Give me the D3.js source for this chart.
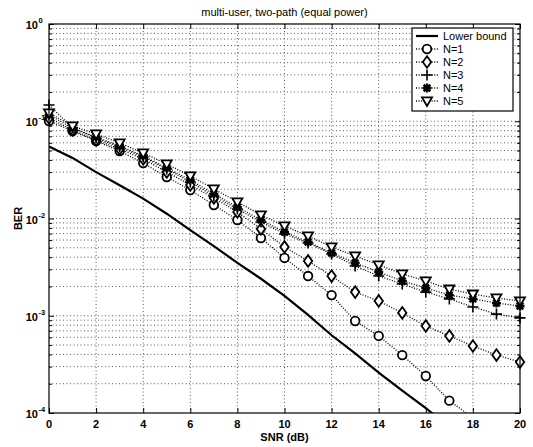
<!DOCTYPE html>
<html><head><meta charset="utf-8">
<script src="https://cdn.jsdelivr.net/npm/d3@7"></script>
<style>
body{margin:0;background:#fff;}
text{font-family:"Liberation Sans",Arial,Helvetica,sans-serif;fill:#000;}
</style></head>
<body><svg id="c" width="533" height="447"></svg>
<script>
const snr = d3.range(0, 21);
const lowerBoundX = d3.range(0, 18);
const lowerBound = [0.055,0.042,0.030,0.022,0.016,0.0112,0.0076,0.0052,0.0035,0.0024,0.0016,0.00102,0.00063,0.00041,0.00026,0.00017,0.000112,0.000072];
const n1X = d3.range(0, 19);
const n1 = [0.1006,0.0794,0.0626,0.0494,0.0372,0.0267,0.0196,0.01377,0.00966,0.0063,0.00393,0.00256,0.00163,0.000883,0.00062,0.000394,0.00024,0.000134,0.0000891];
const n2 = [0.1079,0.0813,0.0641,0.0519,0.0409,0.0301,0.0221,0.01626,0.01167,0.0078,0.0051,0.00366,0.00256,0.00175,0.00142,0.00107,0.000785,0.00062,0.000489,0.000394,0.000334];
const n3 = [0.147,0.0853,0.0673,0.0543,0.0429,0.0323,0.0237,0.017,0.01253,0.0092,0.00693,0.0056,0.00432,0.00325,0.00256,0.00212,0.00175,0.00149,0.00123,0.00104,0.00095];
const n4 = [0.1159,0.0853,0.0689,0.0556,0.044,0.033,0.0249,0.0179,0.0131,0.00966,0.00726,0.00573,0.00442,0.00349,0.00282,0.00228,0.00193,0.00163,0.00149,0.00135,0.00126];
const n5 = [0.1216,0.0893,0.074,0.0597,0.0472,0.0363,0.0274,0.0201,0.0148,0.01086,0.00838,0.0066,0.0051,0.00411,0.00333,0.00269,0.00228,0.00188,0.00167,0.00152,0.00142];
const xTicks = [0,2,4,6,8,10,12,14,16,18,20];
const yDecades = [1e-4,1e-3,1e-2,1e-1,1];
const yExponents = ["-4","-3","-2","-1","0"];
const legendLabels = ["Lower bound","N=1","N=2","N=3","N=4","N=5"];
const titleText = "multi-user, two-path (equal power)";
const xLabel = "SNR (dB)";
const yLabel = "BER";

const L = 49, R = 520, T = 24, B = 413;
const svg = d3.select("#c");
const x = d3.scaleLinear().domain([0,20]).range([L,R]);
const y = d3.scaleLog().domain([1e-4,1]).range([B,T]);

const yMinor = [];
[1e-4,1e-3,1e-2,1e-1].forEach(d => { for (let k=2;k<=9;k++) yMinor.push(d*k); });

const grid = svg.append("g");
grid.selectAll(".vg").data(xTicks.filter(d=>d>0&&d<20)).join("line")
  .attr("x1",d=>x(d)).attr("x2",d=>x(d)).attr("y1",T).attr("y2",B)
  .attr("stroke","#333").attr("stroke-width",0.8).attr("stroke-dasharray","1,2.5");
grid.selectAll(".hg").data(yDecades.slice(1,4).concat(yMinor)).join("line")
  .attr("x1",L).attr("x2",R).attr("y1",d=>y(d)).attr("y2",d=>y(d))
  .attr("stroke","#333").attr("stroke-width",0.8).attr("stroke-dasharray","1,2.5");

const fmtNone = () => "";
svg.append("g").attr("transform",`translate(0,${B})`)
  .call(d3.axisBottom(x).tickValues(xTicks).tickSize(-5).tickFormat(fmtNone))
  .call(g=>g.select(".domain").remove());
svg.append("g").attr("transform",`translate(0,${T})`)
  .call(d3.axisTop(x).tickValues(xTicks).tickSize(-5).tickFormat(fmtNone))
  .call(g=>g.select(".domain").remove());
svg.append("g").attr("transform",`translate(${L},0)`)
  .call(d3.axisLeft(y).tickValues(yDecades).tickSize(-5).tickFormat(fmtNone))
  .call(g=>g.select(".domain").remove());
svg.append("g").attr("transform",`translate(${L},0)`)
  .call(d3.axisLeft(y).tickValues(yMinor).tickSize(-3).tickFormat(fmtNone))
  .call(g=>g.select(".domain").remove());
svg.append("g").attr("transform",`translate(${R},0)`)
  .call(d3.axisRight(y).tickValues(yDecades).tickSize(-5).tickFormat(fmtNone))
  .call(g=>g.select(".domain").remove());
svg.append("g").attr("transform",`translate(${R},0)`)
  .call(d3.axisRight(y).tickValues(yMinor).tickSize(-3).tickFormat(fmtNone))
  .call(g=>g.select(".domain").remove());
svg.selectAll(".tick line").attr("stroke","#000").attr("stroke-width",1);

svg.append("g").selectAll("text").data(xTicks).join("text")
  .attr("x",d=>x(d)).attr("y",428).attr("text-anchor","middle")
  .attr("font-size",11).attr("font-weight","bold").text(d=>d);
svg.append("g").selectAll("text").data(yDecades).join("text")
  .attr("x",38).attr("y",d=>y(d)+5).attr("text-anchor","end")
  .attr("font-size",11).attr("font-weight","bold").text("10");
svg.append("g").selectAll("text").data(yDecades).join("text")
  .attr("x",38.5).attr("y",d=>y(d)-1).attr("text-anchor","start")
  .attr("font-size",7.5).attr("font-weight","bold").text((d,i)=>yExponents[i]);

svg.append("text").attr("x",(L+R)/2).attr("y",16).attr("text-anchor","middle")
  .attr("font-size",11).text(titleText);
svg.append("text").attr("x",(L+R)/2).attr("y",441).attr("text-anchor","middle")
  .attr("font-size",11).attr("font-weight","bold").text(xLabel);
svg.append("text").attr("transform",`translate(22,${(T+B)/2}) rotate(-90)`)
  .attr("text-anchor","middle").attr("font-size",11).attr("font-weight","bold").text(yLabel);

const defs = svg.append("defs");
defs.append("clipPath").attr("id","clip").append("rect")
  .attr("x",L).attr("y",T).attr("width",R-L).attr("height",B-T);
const plot = svg.append("g").attr("clip-path","url(#clip)");
const line = d3.line().x(d=>x(d[0])).y(d=>y(d[1]));

const series = [
  {xs:n1X, ys:n1, m:"circle"},
  {xs:snr, ys:n2, m:"diamond"},
  {xs:snr, ys:n3, m:"plus"},
  {xs:snr, ys:n4, m:"star"},
  {xs:snr, ys:n5, m:"tri"}
];

function marker(g, type, cx, cy) {
  const s = g.append("g").attr("transform",`translate(${cx},${cy})`)
    .attr("fill","#fff").attr("stroke","#000").attr("stroke-width",1.8);
  if (type==="circle") s.append("circle").attr("r",4.3);
  else if (type==="diamond") s.append("path").attr("d","M0,-5.8L4.2,0L0,5.8L-4.2,0Z");
  else if (type==="plus") s.append("path").attr("d","M-5.5,0H5.5M0,-5.5V5.5").attr("stroke-width",1.6);
  else if (type==="star") s.append("path").attr("d","M-4.5,0H4.5M0,-4.5V4.5M-3.3,-3.3L3.3,3.3M-3.3,3.3L3.3,-3.3").attr("stroke-width",2.4);
  else if (type==="tri") s.append("path").attr("d","M-5,-3.6L5,-3.6L0,5Z");
}

series.forEach(s => {
  const pts = s.xs.map((d,i)=>[d, s.ys[i]]);
  plot.append("path").datum(pts).attr("d",line).attr("fill","none")
    .attr("stroke","#000").attr("stroke-width",1.3).attr("stroke-dasharray","1,1.6");
});
plot.append("path").datum(lowerBoundX.map((d,i)=>[d, lowerBound[i]])).attr("d",line)
  .attr("fill","none").attr("stroke","#000").attr("stroke-width",2.2);

const mg = svg.append("g");
series.forEach(s => {
  s.xs.forEach((d,i)=>{ if (s.ys[i] >= 1e-4) marker(mg, s.m, x(d), y(s.ys[i])); });
});

svg.append("rect").attr("x",L).attr("y",T).attr("width",R-L).attr("height",B-T)
  .attr("fill","none").attr("stroke","#000").attr("stroke-width",1.2);

const lg = svg.append("g");
lg.append("rect").attr("x",412).attr("y",28).attr("width",101).attr("height",83)
  .attr("fill","#fff").attr("stroke","#000").attr("stroke-width",1.2);
const ly = [36,49,62,75,88,101];
const lmark = [null,"circle","diamond","plus","star","tri"];
legendLabels.forEach((t,i)=>{
  const yy = ly[i];
  lg.append("line").attr("x1",416).attr("x2",438).attr("y1",yy).attr("y2",yy)
    .attr("stroke","#000").attr("stroke-width", i===0?2.2:1.3)
    .attr("stroke-dasharray", i===0?null:"1,1.6");
  if (lmark[i]) marker(lg, lmark[i], 427, yy);
  lg.append("text").attr("x",443).attr("y",yy+4).attr("font-size",11).text(t);
});
</script></body></html>
